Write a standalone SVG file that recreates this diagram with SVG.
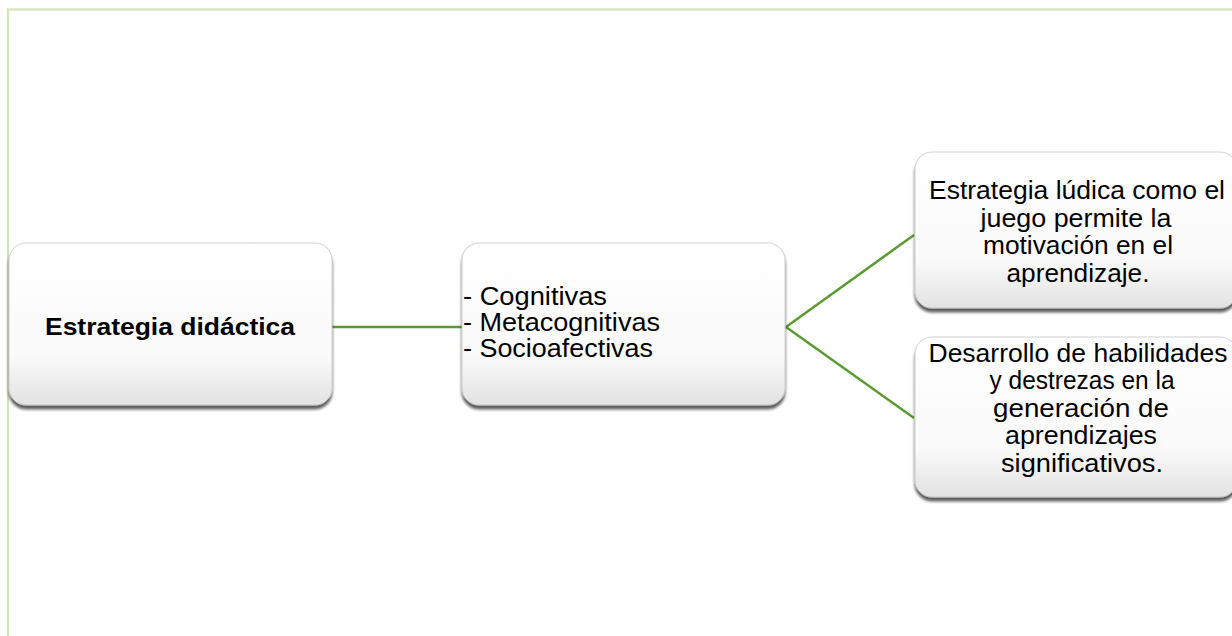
<svg xmlns="http://www.w3.org/2000/svg" width="1232" height="636" viewBox="0 0 1232 636">
<style>
.box{fill:url(#g);stroke:#c4c4c4;stroke-width:0.8;filter:url(#sh)}
.t{font-family:"Liberation Sans",Arial,sans-serif;font-size:25px;fill:#000}
.b{font-weight:bold;font-size:24px}
.c{text-anchor:middle}
.con{stroke:#5b9a32;stroke-width:2.5;fill:none}
</style>
<defs>
<linearGradient id="g" x1="0" y1="0" x2="0" y2="1">
<stop offset="0" stop-color="#ffffff"/>
<stop offset="0.7" stop-color="#fafafa"/>
<stop offset="1" stop-color="#e2e2e2"/>
</linearGradient>
<filter id="sh" x="-5%" y="-5%" width="110%" height="120%">
<feGaussianBlur in="SourceAlpha" stdDeviation="1.8"/>
<feOffset dx="0" dy="4" result="o"/>
<feComponentTransfer><feFuncA type="linear" slope="0.65"/></feComponentTransfer>
<feMerge><feMergeNode/><feMergeNode in="SourceGraphic"/></feMerge>
</filter>
</defs>
<rect width="1232" height="636" fill="#ffffff"/>
<rect x="8" y="9.5" width="1240" height="640" fill="none" stroke="#d5e3b9" stroke-width="2.2"/>
<g id="connectors">
<line class="con" x1="332" y1="327" x2="462" y2="327"/>
<line class="con" x1="786" y1="327" x2="914" y2="235"/>
<line class="con" x1="786" y1="327" x2="914" y2="418"/>
</g>
<g id="n1">
<rect class="box" x="9" y="243" width="323" height="162" rx="17"/>
<text class="t b c" x="170" y="335" textLength="250" lengthAdjust="spacingAndGlyphs">Estrategia didáctica</text>
</g>
<g id="n2">
<rect class="box" x="462" y="243" width="323" height="162" rx="17"/>
<text class="t" x="463" y="305" textLength="144" lengthAdjust="spacingAndGlyphs">- Cognitivas</text>
<text class="t" x="463" y="331" textLength="197" lengthAdjust="spacingAndGlyphs">- Metacognitivas</text>
<text class="t" x="463" y="357" textLength="190" lengthAdjust="spacingAndGlyphs">- Socioafectivas</text>
</g>
<g id="n3">
<rect class="box" x="915" y="152" width="322" height="156" rx="17"/>
<text class="t c" x="1077" y="199" textLength="296" lengthAdjust="spacingAndGlyphs">Estrategia lúdica como el</text>
<text class="t c" x="1076" y="227" textLength="191" lengthAdjust="spacingAndGlyphs">juego permite la</text>
<text class="t c" x="1078" y="254" textLength="190" lengthAdjust="spacingAndGlyphs">motivación en el</text>
<text class="t c" x="1078" y="282" textLength="143" lengthAdjust="spacingAndGlyphs">aprendizaje.</text>
</g>
<g id="n4">
<rect class="box" x="915" y="337" width="322" height="160" rx="17"/>
<text class="t c" x="1078" y="362" textLength="299" lengthAdjust="spacingAndGlyphs">Desarrollo de habilidades</text>
<text class="t c" x="1082" y="389" textLength="185" lengthAdjust="spacingAndGlyphs">y destrezas en la</text>
<text class="t c" x="1081" y="417" textLength="176" lengthAdjust="spacingAndGlyphs">generación de</text>
<text class="t c" x="1081" y="444" textLength="152" lengthAdjust="spacingAndGlyphs">aprendizajes</text>
<text class="t c" x="1082" y="472" textLength="162" lengthAdjust="spacingAndGlyphs">significativos.</text>
</g>
</svg>
